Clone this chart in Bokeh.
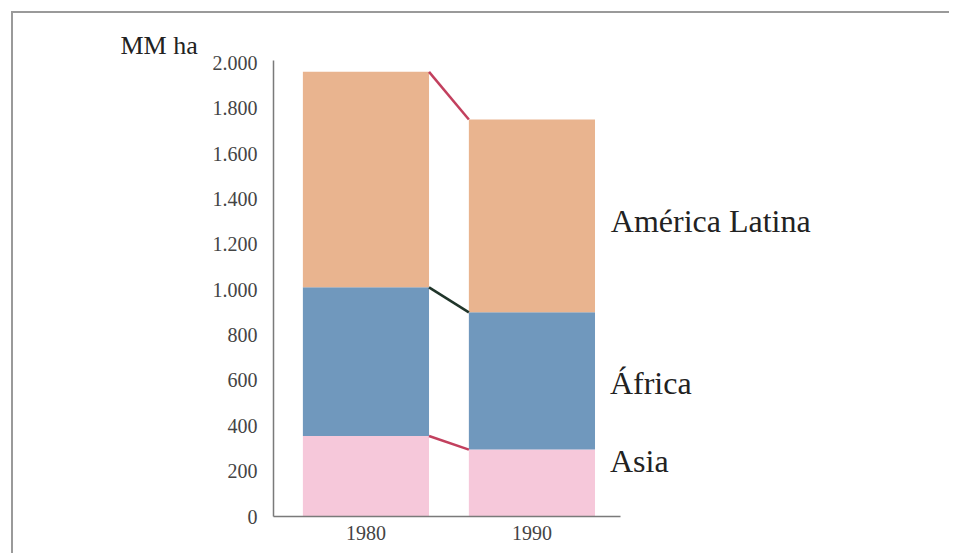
from bokeh.plotting import figure
from bokeh.models import FixedTicker, ColumnDataSource
from bokeh.core.properties import value
from bokeh.embed import file_html
from bokeh.resources import INLINE

# ---- data ----
years = [1980, 1990]
asia = [355, 295]
africa = [655, 605]
america_latina = [950, 850]
series_names = ["Asia", "África", "América Latina"]
y_ticks = [0, 200, 400, 600, 800, 1000, 1200, 1400, 1600, 1800, 2000]
y_tick_labels = ["0", "200", "400", "600", "800", "1.000", "1.200", "1.400", "1.600", "1.800", "2.000"]
x_tick_labels = ["1980", "1990"]
y_unit = "MM ha"

colors = ["#f6c8da", "#7098bd", "#e9b48f"]
connector_colors = ["#c2405e", "#20352a", "#c2405e"]
FONT = "Liberation Serif"
BAR_W = 7.6
X_AXIS_BOUNDS = (1974.43, 1995.33)

src = ColumnDataSource(dict(year=years, asia=asia, africa=africa, latam=america_latina))

p = figure(width=938, height=542, output_backend="svg", toolbar_location=None,
           x_range=(1974.43, 2008.59), y_range=(0, 2010),
           min_border_left=260, min_border_right=111, min_border_top=47, min_border_bottom=39,
           margin=(11, 0, 0, 11), title=y_unit)
p.styles = {"border-top": "2px solid #9a9a9a", "border-left": "2px solid #9a9a9a"}
p.outline_line_color = None
p.grid.grid_line_color = None
p.background_fill_color = "white"
p.border_fill_color = "white"

p.title.text_font = FONT
p.title.text_font_size = "26px"
p.title.text_font_style = "normal"
p.title.text_color = "#222222"
p.title.align = "left"
p.title.offset = -153
p.title.standoff = 2

p.vbar_stack(["asia", "africa", "latam"], x="year", width=BAR_W, color=colors,
             line_color=None, source=src)

# connector lines between the tops of each segment
tops1980 = [asia[0], asia[0] + africa[0], asia[0] + africa[0] + america_latina[0]]
tops1990 = [asia[1], asia[1] + africa[1], asia[1] + africa[1] + america_latina[1]]
x0 = [years[0] + BAR_W / 2] * 3
x1 = [years[1] - BAR_W / 2] * 3
p.segment(x0=x0, y0=tops1980, x1=x1, y1=tops1990, line_color=connector_colors, line_width=2.5)

# axes
p.yaxis.ticker = FixedTicker(ticks=y_ticks)
p.yaxis.major_label_overrides = {t: l for t, l in zip(y_ticks, y_tick_labels)}
p.xaxis.ticker = FixedTicker(ticks=years)
p.xaxis.major_label_overrides = {t: l for t, l in zip(years, x_tick_labels)}
p.xaxis.bounds = X_AXIS_BOUNDS
for ax in (p.xaxis, p.yaxis):
    ax.axis_line_color = "#7a7a7a"
    ax.axis_line_width = 1.5
    ax.major_tick_line_color = None
    ax.minor_tick_line_color = None
    ax.major_label_text_font = FONT
    ax.major_label_text_font_size = "20px"
    ax.major_label_text_color = "#444444"
p.yaxis.major_label_standoff = 10
p.xaxis.major_label_standoff = 3

# series labels (placed to the right of the 1990 bar)
label_x = [1994.7, 1994.7, 1994.75]
label_y = [245, 589, 1301]
p.text(x=label_x, y=label_y, text=series_names, text_font=value(FONT), text_font_size="32px",
       text_color="#222222", text_baseline="middle")

open("out.html", "w").write(file_html(p, INLINE))
